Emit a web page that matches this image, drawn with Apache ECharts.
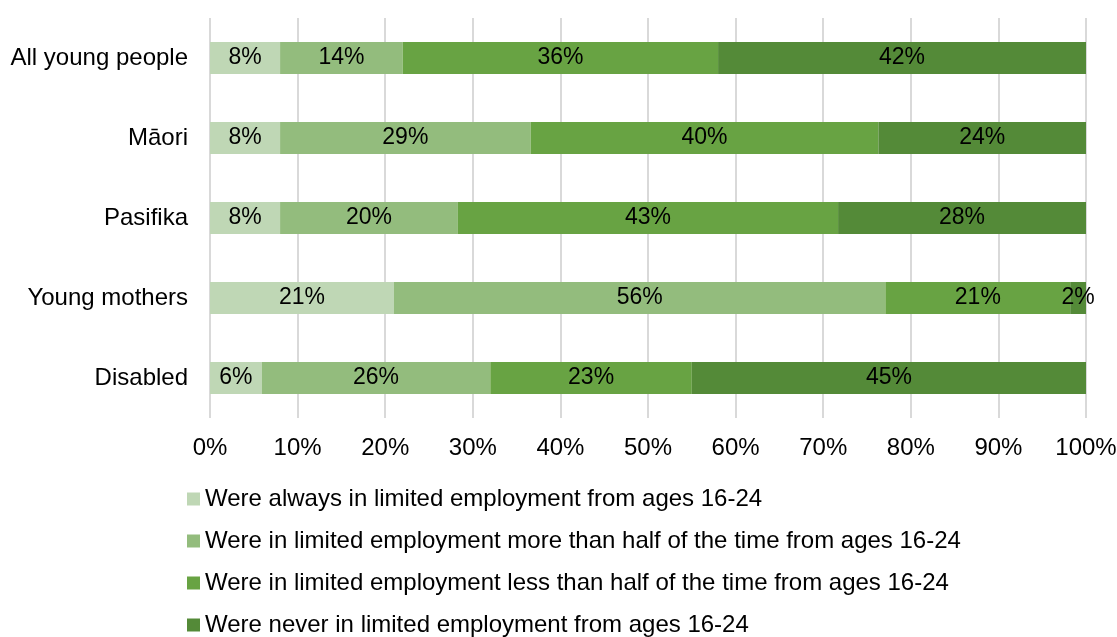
<!DOCTYPE html>
<html>
<head>
<meta charset="utf-8">
<script src="https://cdn.jsdelivr.net/npm/echarts@6/dist/echarts.min.js"></script>
<style>
  html, body { margin: 0; padding: 0; background: #fff; }
  #chart { width: 1117px; height: 637px; }
</style>
</head>
<body>
<div id="chart"></div>
<script>
// groups, top to bottom
const groups = ['All young people', 'Māori', 'Pasifika', 'Young mothers', 'Disabled'];
const seriesNames = [
  'Were always in limited employment from ages 16-24',
  'Were in limited employment more than half of the time from ages 16-24',
  'Were in limited employment less than half of the time from ages 16-24',
  'Were never in limited employment from ages 16-24'
];
// shares in %
const alwaysLimited = [8.0, 8.0, 8.0, 21.0, 5.9];
const moreThanHalf = [14.0, 28.6, 20.3, 56.1, 26.1];
const lessThanHalf = [36.0, 39.7, 43.4, 21.1, 23.0];
const neverLimited = [42.0, 23.7, 28.3, 1.8, 45.0];
const colors = ['#bfd7b5', '#93bc7d', '#68a343', '#548a38'];

const chart = echarts.init(document.getElementById('chart'));
const font = 'Liberation Sans, Arial, sans-serif';

const seriesData = [alwaysLimited, moreThanHalf, lessThanHalf, neverLimited];
const series = seriesData.map((d, i) => ({
  name: seriesNames[i],
  type: 'bar',
  stack: 'total',
  barWidth: 32,
  data: d,
  itemStyle: { color: colors[i] },
  label: {
    show: true,
    position: 'inside',
    color: '#000',
    fontSize: 23,
    fontFamily: font,
    formatter: p => Math.round(p.value) + '%'
  }
}));

chart.setOption({
  animation: false,
  textStyle: { fontFamily: font },
  grid: { left: 210, right: 31, top: 18, height: 400, outerBoundsMode: 'none' },
  xAxis: {
    type: 'value',
    min: 0,
    max: 100,
    interval: 10,
    axisLine: { show: false },
    axisTick: { show: false },
    axisLabel: { color: '#000', fontSize: 24, fontFamily: font, margin: 18, formatter: '{value}%' },
    splitLine: { lineStyle: { color: '#d9d9d9', width: 2 } }
  },
  yAxis: {
    type: 'category',
    data: groups,
    inverse: true,
    axisLine: { show: false },
    axisTick: { show: false },
    axisLabel: { color: '#000', fontSize: 24, fontFamily: font, margin: 22 }
  },
  legend: {
    orient: 'vertical',
    left: 187,
    top: 487,
    height: 200,
    padding: 0,
    itemWidth: 13,
    itemHeight: 13,
    itemGap: 18,
    icon: 'rect',
    textStyle: { color: '#000', fontSize: 24, fontFamily: font, lineHeight: 24 },
    data: seriesNames
  },
  series: series
});
</script>
</body>
</html>
